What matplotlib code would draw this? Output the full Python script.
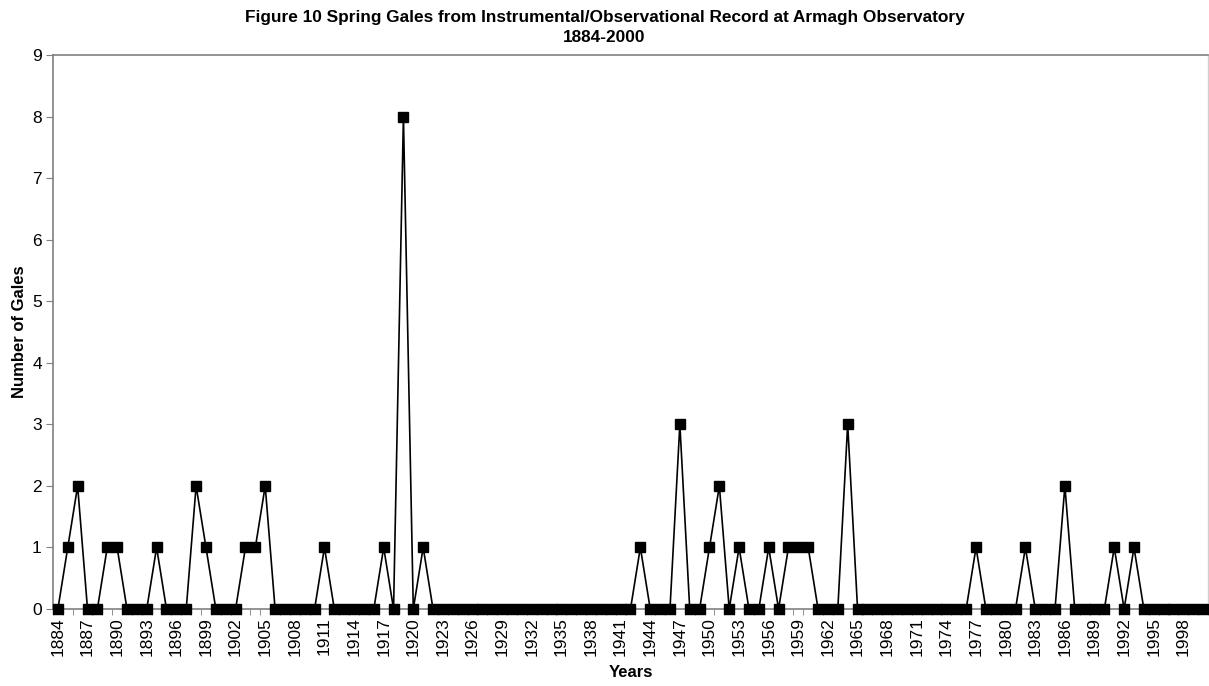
import matplotlib
matplotlib.use("Agg")
import matplotlib.pyplot as plt
import numpy as np

plt.rcParams['font.family'] = ['Liberation Sans', 'DejaVu Sans']

years = list(range(1884, 2001))
gales = [
    0, 1, 2, 0, 0, 1, 1, 0, 0, 0,   # 1884-1893
    1, 0, 0, 0, 2, 1, 0, 0, 0, 1,   # 1894-1903
    1, 2, 0, 0, 0, 0, 0, 1, 0, 0,   # 1904-1913
    0, 0, 0, 1, 0, 8, 0, 1, 0, 0,   # 1914-1923
    0, 0, 0, 0, 0, 0, 0, 0, 0, 0,   # 1924-1933
    0, 0, 0, 0, 0, 0, 0, 0, 0, 1,   # 1934-1943
    0, 0, 0, 3, 0, 0, 1, 2, 0, 1,   # 1944-1953
    0, 0, 1, 0, 1, 1, 1, 0, 0, 0,   # 1954-1963
    3, 0, 0, 0, 0, 0, 0, 0, 0, 0,   # 1964-1973
    0, 0, 0, 1, 0, 0, 0, 0, 1, 0,   # 1974-1983
    0, 0, 2, 0, 0, 0, 0, 1, 0, 1,   # 1984-1993
    0, 0, 0, 0, 0, 0, 0,            # 1994-2000
]

fig = plt.figure(figsize=(12.09, 6.86), dpi=100)
ax = fig.add_axes([0.0438, 0.1122, 0.9554, 0.8076])

x = np.arange(len(years))
ax.plot(x, gales, color='black', lw=1.2, marker='s', markersize=7.2,
        markerfacecolor='black', markeredgecolor='black', clip_on=False, zorder=3)

ax.set_xlim(-0.5, len(years) - 0.5)
ax.set_ylim(0, 9)
ax.set_yticks(range(0, 10))
ax.set_xticks(x[::3])
ax.set_xticklabels([str(y) for y in years[::3]], rotation=90)
ax.set_xticks(np.arange(-0.5, len(years), 1), minor=True)
ax.tick_params(axis='x', which='major', length=0, labelsize=12.5, pad=6)
ax.tick_params(axis='x', which='minor', length=4, color='#808080')
ax.tick_params(axis='y', length=5, color='#808080', labelsize=12.5, pad=3)

for side in ['left', 'bottom', 'top']:
    ax.spines[side].set_color('#808080')
    ax.spines[side].set_linewidth(1.2)
ax.spines['right'].set_color('#d0d0d0')
ax.spines['right'].set_linewidth(1.0)

ax.set_ylabel('Number of Gales', fontsize=12, fontweight='bold', labelpad=4)
fig.text(0.5215, 0.019, 'Years', fontsize=12, fontweight='bold', ha='center', va='center')
fig.text(0.5, 0.975, 'Figure 10 Spring Gales from Instrumental/Observational Record at Armagh Observatory',
         fontsize=12.4, fontweight='bold', ha='center', va='center')
fig.text(0.5, 0.946, '1884-2000', fontsize=12.4, fontweight='bold', ha='center', va='center')

fig.savefig('out.png', dpi=100)
